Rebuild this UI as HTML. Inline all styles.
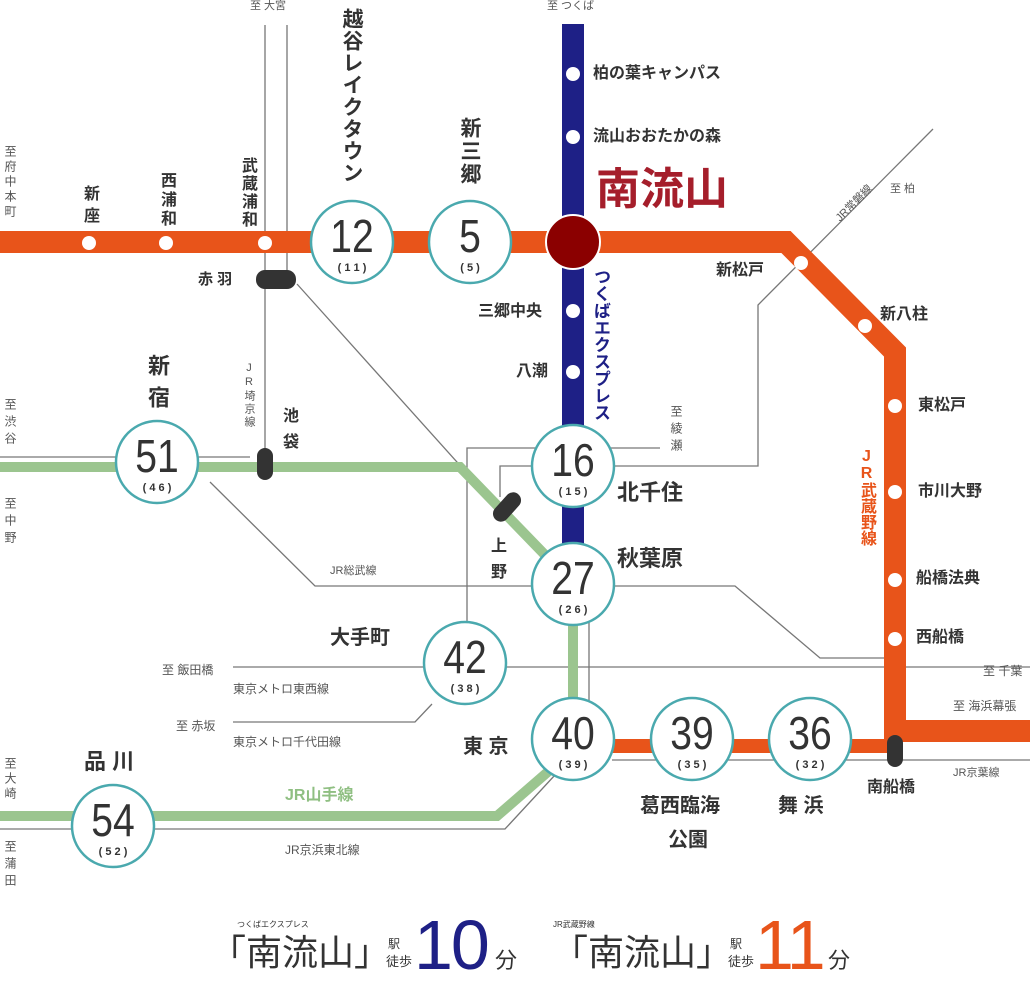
<!DOCTYPE html>
<html><head><meta charset="utf-8"><style>
body{margin:0;width:1030px;height:980px;background:#fff;position:relative;overflow:hidden;font-family:"Liberation Sans","Noto Sans CJK JP",sans-serif;color:#333}
svg{position:absolute;left:0;top:0}
.t{position:absolute;white-space:nowrap;font-weight:bold;line-height:1}
.v{position:absolute;writing-mode:vertical-rl;text-orientation:upright;white-space:nowrap;line-height:1;font-weight:bold}
.s{font-weight:normal;color:#555}
.n{font-family:"Liberation Sans",sans-serif;font-size:46px;fill:#333}
.m{font-family:"Liberation Sans",sans-serif;font-size:11px;fill:#333;font-weight:bold}
</style></head><body>
<svg width="1030" height="980" viewBox="0 0 1030 980">
<g fill="none" stroke="#777" stroke-width="1.3">
<line x1="265" y1="25" x2="265" y2="460"/>
<line x1="287" y1="25" x2="287" y2="272"/>
<polyline points="297,284 545,560"/>
<polyline points="0,457 120,457"/><polyline points="198,457 250,457"/>
<polyline points="210,482 315,586 735,586 820,658 890,658"/>
<line x1="233" y1="667" x2="1030" y2="667"/>
<polyline points="233,722 415,722 432,704"/>
<polyline points="467,625 467,448 540,448"/>
<line x1="610" y1="448" x2="660" y2="448"/>
<polyline points="500,497 500,466 540,466"/>
<polyline points="610,466 758,466 758,305 933,129"/>
<line x1="589" y1="622" x2="589" y2="702"/>
<polyline points="0,829 505,829 555,775"/>
<line x1="612" y1="760" x2="1030" y2="760"/>
</g>
<g fill="none" stroke="#9bc58f" stroke-width="10" stroke-linejoin="miter">
<polyline points="0,467 460,467 548,558"/>
<line x1="573" y1="620" x2="573" y2="705"/>
<polyline points="550,770 497,816 0,816"/>
</g>
<rect x="562" y="24" width="22" height="530" fill="#1e2086"/>
<polyline points="0,242 786,242 895,352 895,731 1030,731" fill="none" stroke="#e8541a" stroke-width="22" stroke-linejoin="miter"/>
<line x1="573" y1="746" x2="895" y2="746" stroke="#e8541a" stroke-width="14"/>
<g fill="#fff">
<circle cx="573" cy="74" r="7"/><circle cx="573" cy="137" r="7"/><circle cx="573" cy="311" r="7"/><circle cx="573" cy="372" r="7"/>
<circle cx="89" cy="243" r="7"/><circle cx="166" cy="243" r="7"/><circle cx="265" cy="243" r="7"/>
<circle cx="801" cy="263" r="7"/><circle cx="865" cy="326" r="7"/>
<circle cx="895" cy="406" r="7"/><circle cx="895" cy="492" r="7"/><circle cx="895" cy="580" r="7"/><circle cx="895" cy="639" r="7"/>
</g>
<g fill="#333">
<rect x="256" y="270" width="40" height="19" rx="9"/>
<rect x="257" y="448" width="16" height="32" rx="8"/>
<rect x="499" y="490" width="16" height="34" rx="8" transform="rotate(42 507 507)"/>
<rect x="887" y="735" width="16" height="32" rx="8"/>
</g>
<circle cx="573" cy="242" r="27" fill="#8b0000" stroke="#fff" stroke-width="2"/>
<g fill="#fff" stroke="#4aa9ae" stroke-width="2.5">
<circle cx="352" cy="242" r="41"/><circle cx="470" cy="242" r="41"/>
<circle cx="573" cy="466" r="41"/><circle cx="573" cy="584" r="41"/>
<circle cx="573" cy="739" r="41"/><circle cx="692" cy="739" r="41"/><circle cx="810" cy="739" r="41"/>
<circle cx="465" cy="663" r="41"/><circle cx="157" cy="462" r="41"/><circle cx="113" cy="826" r="41"/>
</g>
<g text-anchor="middle">
<text class="n" x="0" y="252" transform="translate(352 0) scale(0.85 1)">12</text><text class="m" x="352" y="271">( 1 1 )</text>
<text class="n" x="0" y="252" transform="translate(470 0) scale(0.85 1)">5</text><text class="m" x="470" y="271">( 5 )</text>
<text class="n" x="0" y="476" transform="translate(573 0) scale(0.85 1)">16</text><text class="m" x="573" y="495">( 1 5 )</text>
<text class="n" x="0" y="594" transform="translate(573 0) scale(0.85 1)">27</text><text class="m" x="573" y="613">( 2 6 )</text>
<text class="n" x="0" y="749" transform="translate(573 0) scale(0.85 1)">40</text><text class="m" x="573" y="768">( 3 9 )</text>
<text class="n" x="0" y="749" transform="translate(692 0) scale(0.85 1)">39</text><text class="m" x="692" y="768">( 3 5 )</text>
<text class="n" x="0" y="749" transform="translate(810 0) scale(0.85 1)">36</text><text class="m" x="810" y="768">( 3 2 )</text>
<text class="n" x="0" y="673" transform="translate(465 0) scale(0.85 1)">42</text><text class="m" x="465" y="692">( 3 8 )</text>
<text class="n" x="0" y="472" transform="translate(157 0) scale(0.85 1)">51</text><text class="m" x="157" y="491">( 4 6 )</text>
<text class="n" x="0" y="836" transform="translate(113 0) scale(0.85 1)">54</text><text class="m" x="113" y="855">( 5 2 )</text>
</g>
<text x="840" y="222" font-size="11" fill="#555" transform="rotate(-45 840 222)" font-family="Liberation Sans,Noto Sans CJK JP,sans-serif">JR常磐線</text>
</svg>

<div class="t s" style="left:250px;top:1px;font-size:11px">至 大宮</div>
<div class="t s" style="left:547px;top:1px;font-size:11px">至 つくば</div>
<div class="v" style="left:341px;top:8px;font-size:21px;letter-spacing:1px">越谷レイクタウン</div>
<div class="v" style="left:459px;top:117px;font-size:21px;letter-spacing:2px">新三郷</div>
<div class="v" style="left:239px;top:157px;font-size:16px;letter-spacing:2px">武蔵浦和</div>
<div class="v" style="left:158px;top:172px;font-size:16px;letter-spacing:3px">西浦和</div>
<div class="v" style="left:81px;top:185px;font-size:16px;letter-spacing:6px">新座</div>
<div class="v s" style="left:4px;top:145px;font-size:12px;letter-spacing:3px">至府中本町</div>
<div class="t" style="left:198px;top:272px;font-size:15px">赤 羽</div>
<div class="v" style="left:146px;top:354px;font-size:22px;letter-spacing:10px">新宿</div>
<div class="v s" style="left:243px;top:362px;font-size:11px;letter-spacing:2px">JR埼京線</div>
<div class="v" style="left:280px;top:407px;font-size:16px;letter-spacing:10px">池袋</div>
<div class="v s" style="left:4px;top:398px;font-size:12px;letter-spacing:5px">至渋谷</div>
<div class="v s" style="left:4px;top:497px;font-size:12px;letter-spacing:5px">至中野</div>
<div class="t s" style="left:330px;top:566px;font-size:11px">JR総武線</div>
<div class="v" style="left:488px;top:537px;font-size:16px;letter-spacing:10px">上野</div>
<div class="t" style="left:330px;top:628px;font-size:20px">大手町</div>
<div class="t s" style="left:162px;top:664px;font-size:12px">至 飯田橋</div>
<div class="t s" style="left:233px;top:683px;font-size:12px">東京メトロ東西線</div>
<div class="t s" style="left:176px;top:720px;font-size:12px">至 赤坂</div>
<div class="t s" style="left:233px;top:736px;font-size:12px">東京メトロ千代田線</div>
<div class="t" style="left:84px;top:751px;font-size:22px">品 川</div>
<div class="t" style="left:285px;top:788px;font-size:16px;color:#8fbf82">JR山手線</div>
<div class="t s" style="left:285px;top:844px;font-size:12px">JR京浜東北線</div>
<div class="v s" style="left:4px;top:757px;font-size:12px;letter-spacing:3px">至大崎</div>
<div class="v s" style="left:4px;top:840px;font-size:12px;letter-spacing:5px">至蒲田</div>
<div class="t" style="left:463px;top:737px;font-size:20px">東 京</div>
<div class="t" style="left:640px;top:796px;font-size:20px">葛西臨海</div>
<div class="t" style="left:668px;top:830px;font-size:20px">公園</div>
<div class="t" style="left:778px;top:796px;font-size:20px">舞 浜</div>
<div class="t" style="left:867px;top:780px;font-size:16px">南船橋</div>
<div class="t s" style="left:953px;top:768px;font-size:11px">JR京葉線</div>
<div class="t s" style="left:953px;top:700px;font-size:12px">至 海浜幕張</div>
<div class="t s" style="left:983px;top:665px;font-size:12px">至 千葉</div>
<div class="t" style="left:916px;top:630px;font-size:16px">西船橋</div>
<div class="t" style="left:916px;top:571px;font-size:16px">船橋法典</div>
<div class="t" style="left:918px;top:484px;font-size:16px">市川大野</div>
<div class="t" style="left:918px;top:398px;font-size:16px">東松戸</div>
<div class="v" style="left:858px;top:448px;font-size:16px;color:#e8541a">JR武蔵野線</div>
<div class="t" style="left:880px;top:307px;font-size:16px">新八柱</div>
<div class="t" style="left:716px;top:263px;font-size:16px">新松戸</div>
<div class="t s" style="left:890px;top:184px;font-size:11px">至 柏</div>
<div class="t" style="left:596px;top:168px;font-size:44px;color:#a51e2b">南流山</div>
<div class="t" style="left:593px;top:66px;font-size:16px">柏の葉キャンパス</div>
<div class="t" style="left:593px;top:129px;font-size:16px">流山おおたかの森</div>
<div class="v" style="left:592px;top:268px;font-size:17px;color:#1e2086">つくばエクスプレス</div>
<div class="t" style="left:478px;top:304px;font-size:16px">三郷中央</div>
<div class="t" style="left:516px;top:364px;font-size:16px">八潮</div>
<div class="v s" style="left:670px;top:405px;font-size:12px;letter-spacing:5px">至綾瀬</div>
<div class="t" style="left:617px;top:482px;font-size:22px">北千住</div>
<div class="t" style="left:617px;top:548px;font-size:22px">秋葉原</div>

<div class="t s" style="left:237px;top:921px;font-size:8px;color:#333">つくばエクスプレス</div>
<div class="t" style="left:210px;top:935px;font-size:36px;font-weight:normal">「南流山」</div>
<div class="t" style="left:388px;top:938px;font-size:12px;font-weight:normal">駅</div>
<div class="t" style="left:386px;top:955px;font-size:13px;font-weight:normal">徒歩</div>
<div class="t" style="left:414px;top:910px;font-size:70px;font-weight:normal;color:#1e2086;letter-spacing:-2px">10</div>
<div class="t" style="left:495px;top:950px;font-size:22px;font-weight:normal">分</div>
<div class="t s" style="left:553px;top:921px;font-size:8px;color:#333">JR武蔵野線</div>
<div class="t" style="left:552px;top:935px;font-size:36px;font-weight:normal">「南流山」</div>
<div class="t" style="left:730px;top:938px;font-size:12px;font-weight:normal">駅</div>
<div class="t" style="left:728px;top:955px;font-size:13px;font-weight:normal">徒歩</div>
<div class="t" style="left:755px;top:910px;font-size:70px;font-weight:normal;color:#e8541a;letter-spacing:-2px">11</div>
<div class="t" style="left:828px;top:950px;font-size:22px;font-weight:normal">分</div>
</body></html>
